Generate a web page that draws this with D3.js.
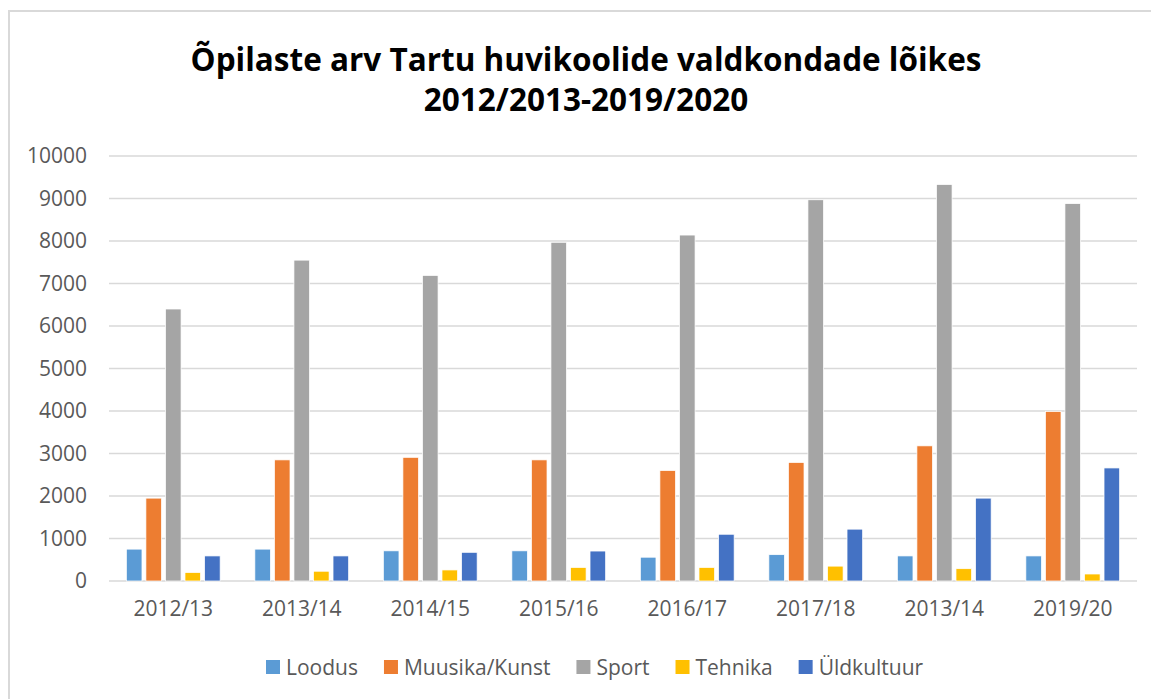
<!DOCTYPE html>
<html>
<head>
<meta charset="utf-8">
<script src="https://cdn.jsdelivr.net/npm/d3@7"></script>
<style>
  body { margin: 0; background: #fff; }
  svg { display: block; }
  text { font-family: "Open Sans", sans-serif; }
</style>
</head>
<body>
<div id="chart-container"></div>
<script>
// categories (note: the source repeats "2013/14" for the 7th group)
const categories = ["2012/13", "2013/14", "2014/15", "2015/16", "2016/17", "2017/18", "2013/14", "2019/20"];
const seriesNames = ["Loodus", "Muusika/Kunst", "Sport", "Tehnika", "Üldkultuur"];

const loodus = [750, 750, 710, 710, 560, 620, 590, 590];
const muusikaKunst = [1950, 2850, 2910, 2850, 2600, 2790, 3180, 3990];
const sport = [6400, 7550, 7190, 7970, 8140, 8970, 9330, 8880];
const tehnika = [200, 230, 260, 320, 320, 350, 290, 165];
const yldkultuur = [590, 590, 675, 705, 1100, 1220, 1950, 2660];

const yTicks = [0, 1000, 2000, 3000, 4000, 5000, 6000, 7000, 8000, 9000, 10000];
const titleLines = ["Õpilaste arv Tartu huvikoolide valdkondade lõikes", "2012/2013-2019/2020"];

const seriesValues = [loodus, muusikaKunst, sport, tehnika, yldkultuur];
const colors = ["#5b9bd5", "#ed7d31", "#a5a5a5", "#ffc000", "#4472c4"];

function drawChart() {
  const W = 1151, H = 699;
  const margin = { top: 156, right: 14, bottom: 118, left: 109 };
  const width = W - margin.left - margin.right;
  const height = H - margin.top - margin.bottom;

  const root = d3.select("#chart-container")
    .append("svg")
    .attr("width", W)
    .attr("height", H);

  // outer chart border (only top/left are visible in the crop)
  root.append("rect")
    .attr("x", 9)
    .attr("y", 11)
    .attr("width", 1300)
    .attr("height", 900)
    .attr("fill", "none")
    .attr("stroke", "#d9d9d9")
    .attr("stroke-width", 2);

  // title
  root.append("g")
    .selectAll("text")
    .data(titleLines)
    .join("text")
    .attr("x", 586)
    .attr("y", (d, i) => 71 + i * 40)
    .attr("text-anchor", "middle")
    .style("font-size", "31.5px")
    .style("font-weight", "bold")
    .style("fill", "#000")
    .text((d) => d);

  const svg = root.append("g")
    .attr("transform", `translate(${margin.left}, ${margin.top})`);

  // scales
  const x0 = d3.scaleBand()
    .domain(d3.range(categories.length))
    .range([0, width])
    .paddingInner(0.27)
    .paddingOuter(0.135);

  const x1 = d3.scaleBand()
    .domain(d3.range(seriesNames.length))
    .range([0, x0.bandwidth()])
    .paddingInner(0.2);

  const y = d3.scaleLinear().domain([0, 10000]).range([height, 0]);

  // horizontal grid lines (incl. baseline)
  svg.selectAll(".yGrid")
    .data(yTicks)
    .join("line")
    .attr("class", "yGrid")
    .attr("x1", 0)
    .attr("x2", width)
    .attr("y1", (d) => y(d))
    .attr("y2", (d) => y(d))
    .attr("stroke", "#d9d9d9")
    .attr("stroke-width", 1.4);

  // bars
  const groups = svg.selectAll(".grp")
    .data(categories)
    .join("g")
    .attr("class", "grp")
    .attr("transform", (d, i) => `translate(${x0(i)}, 0)`);

  groups.selectAll("rect")
    .data((d, i) => seriesValues.map((vals, s) => ({ s: s, v: vals[i] })))
    .join("rect")
    .attr("x", (d) => x1(d.s))
    .attr("y", (d) => y(d.v))
    .attr("width", x1.bandwidth())
    .attr("height", (d) => y(0) - y(d.v))
    .attr("fill", (d) => colors[d.s])
    .attr("stroke", "#fff")
    .attr("stroke-width", 0.75);

  // y axis
  svg.append("g")
    .style("font-size", "21px")
    .call(d3.axisLeft(y).tickValues(yTicks).tickFormat(d3.format("d")).tickSize(0).tickPadding(22))
    .call((g) => g.select(".domain").remove())
    .selectAll(".tick text")
    .style("fill", "#595959")
    .style("font-family", '"Open Sans", sans-serif');

  // x axis
  svg.append("g")
    .attr("transform", `translate(0, ${height})`)
    .style("font-size", "21px")
    .call(d3.axisBottom(x0).tickFormat((i) => categories[i]).tickSize(0).tickPadding(20))
    .call((g) => g.select(".domain").remove())
    .selectAll(".tick text")
    .style("fill", "#595959")
    .style("font-family", '"Open Sans", sans-serif');

  // legend
  const legend = root.append("g").attr("transform", "translate(266, 0)");
  let lx = 0;
  seriesNames.forEach((name, i) => {
    const item = legend.append("g").attr("transform", `translate(${lx}, 0)`);
    item.append("rect")
      .attr("x", 0)
      .attr("y", 660)
      .attr("width", 14)
      .attr("height", 14)
      .attr("fill", colors[i]);
    const t = item.append("text")
      .attr("x", 20)
      .attr("y", 675)
      .style("font-size", "21px")
      .style("fill", "#595959")
      .text(name);
    lx += 20 + t.node().getComputedTextLength() + 26;
  });
}

drawChart();
</script>
</body>
</html>
